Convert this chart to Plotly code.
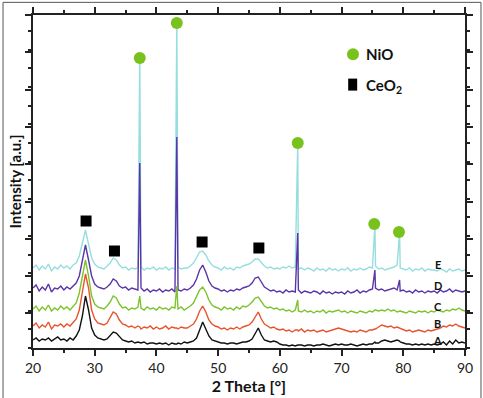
import plotly.graph_objects as go

# 2-theta grid of the broad patterns (0.5 deg steps, 20..90) -> 141 values per series
two_theta = [20 + 0.5 * i for i in range(141)]
# positions of the sharp NiO reflections
nio_pos = [37.3, 43.3, 62.9, 75.4, 79.4]

# intensities (arbitrary units), blocks of 5 degrees
A = [8, 10, 7, 9, 8, 10, 7, 9, 11, 8,
     9, 7, 10, 8, 12, 18, 32, 52, 38, 20,
     13, 10, 9, 8, 9, 12, 16, 15, 11, 8,
     7, 6, 7, 5, 6, 5, 6, 4, 5, 5,
     4, 5, 4, 5, 3, 5, 4, 5, 4, 6,
     5, 6, 7, 10, 19, 26, 19, 12, 8, 7,
     6, 5, 5, 4, 5, 5, 4, 5, 6, 6,
     7, 9, 15, 20, 13, 8, 7, 6, 7, 6,
     4, 3, 3, 2, 3, 2, 3, 3, 2, 3,
     3, 2, 3, 3, 4, 3, 2, 3, 4, 3,
     4, 3, 3, 4, 3, 2, 3, 4, 3, 4,
     4, 5, 5, 7, 8, 7, 6, 7, 8, 6,
     5, 4, 4, 3, 4, 3, 4, 3, 4, 3,
     4, 3, 4, 6, 3, 7, 4, 8, 5, 6,
     5]
B = [22, 25, 20, 23, 21, 26, 19, 23, 22, 24,
     21, 24, 22, 25, 29, 38, 56, 74, 60, 38,
     29, 25, 24, 23, 25, 30, 36, 34, 28, 24,
     23, 21, 22, 20, 22, 19, 21, 20, 22, 19,
     21, 19, 20, 22, 19, 21, 20, 19, 21, 20,
     20, 22, 24, 29, 37, 42, 36, 28, 24, 22,
     21, 19, 20, 18, 20, 19, 21, 19, 21, 22,
     23, 26, 31, 36, 29, 24, 22, 20, 21, 19,
     18, 19, 17, 18, 16, 18, 17, 19, 16, 18,
     17, 18, 16, 17, 18, 16, 17, 18, 19, 20,
     19, 18, 17, 16, 17, 16, 18, 17, 16, 18,
     18, 19, 21, 23, 22, 21, 22, 20, 21, 19,
     18, 17, 18, 16, 17, 18, 17, 16, 18, 17,
     18, 19, 20, 22, 21, 23, 22, 24, 22, 21,
     20]
C = [39, 42, 37, 41, 38, 43, 37, 40, 38, 42,
     39, 41, 38, 42, 45, 55, 72, 88, 72, 52,
     44, 41, 40, 39, 42, 46, 52, 50, 44, 40,
     41, 38, 40, 39, 41, 40, 38, 41, 39, 40,
     38, 41, 39, 40, 38, 41, 40, 39, 41, 38,
     40, 42, 45, 51, 58, 61, 56, 48, 43, 41,
     40, 38, 41, 39, 40, 38, 41, 39, 42, 41,
     43, 46, 50, 51, 46, 42, 40, 41, 39, 40,
     38, 39, 37, 38, 36, 38, 37, 36, 38, 36,
     37, 35, 37, 36, 38, 35, 37, 36, 37, 38,
     36, 37, 35, 37, 36, 35, 37, 36, 35, 37,
     36, 38, 37, 38, 37, 39, 37, 38, 36, 37,
     36, 35, 37, 36, 35, 37, 36, 37, 35, 37,
     36, 38, 37, 36, 38, 37, 39, 38, 40, 38,
     37]
D = [60, 63, 57, 61, 58, 64, 56, 60, 59, 62,
     58, 61, 59, 62, 65, 72, 88, 103, 88, 72,
     64, 61, 60, 59, 61, 64, 69, 67, 62, 60,
     61, 58, 60, 59, 58, 60, 57, 59, 56, 58,
     57, 59, 56, 58, 57, 59, 56, 58, 57, 59,
     58, 60, 63, 69, 78, 83, 76, 67, 62, 60,
     59, 57, 58, 56, 58, 57, 59, 58, 60, 61,
     62, 65, 70, 71, 66, 61, 59, 57, 58, 56,
     57, 55, 58, 56, 57, 56, 58, 55, 57, 56,
     55, 57, 56, 54, 57, 55, 56, 54, 56, 55,
     56, 54, 57, 55, 56, 58, 55, 57, 56, 58,
     59, 60, 58, 59, 57, 58, 59, 60, 58, 57,
     58, 56, 57, 55, 58, 56, 57, 55, 57, 56,
     57, 55, 58, 56, 57, 59, 56, 58, 57, 56,
     57]
E = [80, 83, 78, 82, 79, 84, 77, 81, 79, 83,
     80, 82, 79, 83, 85, 92, 105, 118, 104, 90,
     84, 81, 80, 79, 82, 85, 90, 88, 83, 80,
     81, 78, 80, 79, 80, 81, 78, 80, 79, 81,
     78, 80, 79, 81, 78, 80, 79, 81, 79, 80,
     80, 82, 85, 90, 96, 97, 93, 87, 83, 81,
     80, 78, 81, 79, 80, 78, 81, 80, 82, 83,
     84, 86, 89, 89, 85, 82, 80, 81, 79, 80,
     79, 81, 80, 82, 80, 81, 79, 80, 78, 80,
     79, 77, 80, 78, 79, 77, 80, 78, 79, 77,
     79, 78, 80, 77, 79, 78, 80, 78, 79, 81,
     80, 82, 79, 80, 78, 79, 80, 81, 83, 80,
     79, 78, 80, 77, 79, 78, 80, 77, 79, 78,
     78, 77, 79, 78, 76, 79, 77, 78, 79, 77,
     78]

# intensities at the sharp NiO positions for each sample
A_nio = [5, 4, 3, 6, 7]
B_nio = [21, 20, 18, 19, 20]
C_nio = [52, 62, 48, 38, 37]
D_nio = [185, 211, 115, 78, 68]
E_nio = [290, 325, 205, 123, 115]

# phase markers
nio_mark_x = [37.3, 43.3, 62.9, 75.3, 79.3]
nio_mark_y = [290, 325, 205, 124, 116]
ceo2_mark_x = [28.6, 33.2, 47.4, 56.6]
ceo2_mark_y = [127, 97, 106, 100]

sample_labels = ["E", "D", "C", "B", "A"]
series = [(E, E_nio, "#96dede"), (D, D_nio, "#5a35a8"), (C, C_nio, "#7cc42a"),
          (B, B_nio, "#e8532b"), (A, A_nio, "#111111")]

NIO_GREEN = "#79c11c"


def merged(base, peaks):
    pts = sorted(list(zip(two_theta, base)) + list(zip(nio_pos, peaks)))
    return [p[0] for p in pts], [p[1] for p in pts]


fig = go.Figure()
for (vals, pk, col), lab in zip(series, sample_labels):
    xs, ys = merged(vals, pk)
    fig.add_trace(go.Scatter(x=xs, y=ys, mode="lines", line=dict(color=col, width=1.4),
                             showlegend=False, name=lab))

fig.add_trace(go.Scatter(x=nio_mark_x, y=nio_mark_y, mode="markers", name="NiO",
                         marker=dict(symbol="circle", size=12, color=NIO_GREEN),
                         showlegend=False))
fig.add_trace(go.Scatter(x=ceo2_mark_x, y=ceo2_mark_y, mode="markers", name="CeO2",
                         marker=dict(symbol="square", size=11, color="#000000"),
                         showlegend=False))

label_y = [84, 63, 42, 25, 8]
for lab, ly in zip(sample_labels, label_y):
    fig.add_annotation(x=85.6, y=ly, text="<b>" + lab + "</b>", showarrow=False,
                       font=dict(size=11, color="#111", family="Lato"))

# key (legend) drawn in paper space
fig.add_shape(type="circle", xref="paper", yref="paper", xsizemode="pixel", ysizemode="pixel",
              xanchor=0.7407, yanchor=0.882, x0=-6, x1=6, y0=-6, y1=6,
              fillcolor=NIO_GREEN, line=dict(width=0))
fig.add_shape(type="rect", xref="paper", yref="paper", xsizemode="pixel", ysizemode="pixel",
              xanchor=0.740, yanchor=0.791, x0=-4.5, x1=4.5, y0=-6, y1=6,
              fillcolor="#000", line=dict(width=0))
fig.add_annotation(xref="paper", yref="paper", x=0.766, y=0.884, xanchor="left", yanchor="middle",
                   text="<b>NiO</b>", showarrow=False, font=dict(size=15, color="#111", family="Lato"))
fig.add_annotation(xref="paper", yref="paper", x=0.766, y=0.788, xanchor="left", yanchor="middle",
                   text="<b>CeO<sub>2</sub></b>", showarrow=False,
                   font=dict(size=15, color="#111", family="Lato"))

axis_common = dict(showline=True, linewidth=1.5, linecolor="#222", mirror="ticks",
                   ticks="outside", tickwidth=1.5, tickcolor="#222", ticklen=6,
                   showgrid=False, zeroline=False)

fig.update_xaxes(range=[20, 90], tick0=20, dtick=10,
                 minor=dict(dtick=5, ticks="outside", ticklen=3, tickwidth=1.5, tickcolor="#222"),
                 tickfont=dict(size=14, color="#222", family="Lato"),
                 title=dict(text="<b>2 Theta [°]</b>", font=dict(size=16, color="#111", family="Lato"),
                            standoff=6),
                 automargin=False, **axis_common)
fig.update_yaxes(range=[0, 333], tickmode="linear", tick0=34.6, dtick=37.3,
                 minor=dict(dtick=18.65, ticks="outside", ticklen=3, tickwidth=1.5, tickcolor="#222"),
                 showticklabels=False,
                 title=dict(text="<b>Intensity [a.u.]</b>", font=dict(size=15, color="#111", family="Lato"),
                            standoff=0),
                 automargin=False, **axis_common)

fig.add_shape(type="rect", xref="paper", yref="paper", x0=-0.0694, x1=1.037, y0=-0.16, y1=1.038,
              line=dict(color="#555", width=1))

fig.update_layout(width=483, height=398, margin=dict(l=33, r=18, t=15, b=50),
                  paper_bgcolor="white", plot_bgcolor="white", showlegend=False,
                  font=dict(family="Lato"))

fig.write_html("out.html")
